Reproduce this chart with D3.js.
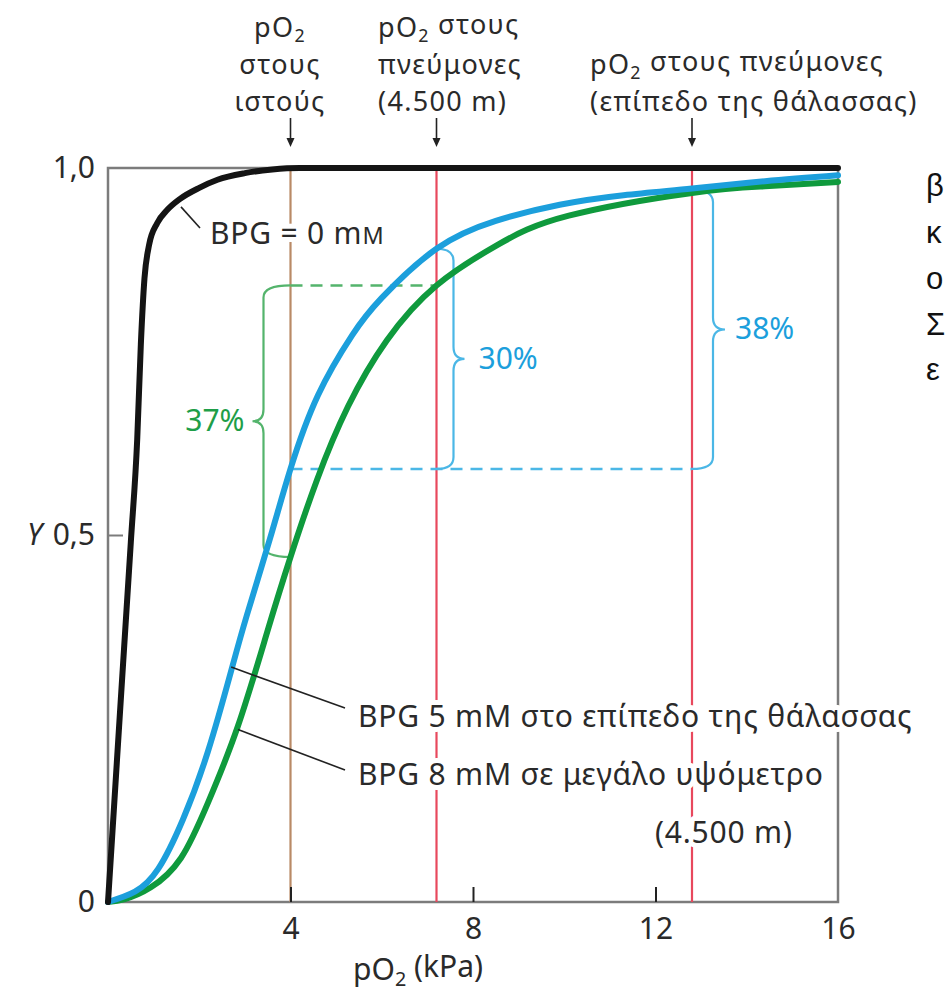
<!DOCTYPE html>
<html>
<head>
<meta charset="utf-8">
<script src="https://cdn.jsdelivr.net/npm/d3@7"></script>
<style>
  body { margin: 0; background: #fff; }
  svg { display: block; }
  text { font-family: "Noto Sans", "Open Sans", sans-serif; }
</style>
</head>
<body>
<svg id="chart" width="947" height="992"></svg>
<script>
// Oxygen saturation Y against pO2 (kPa) for three BPG levels
const bpg0P = [0, 0.1, 0.3, 0.5, 0.64, 0.72, 0.8, 0.9, 1.08, 1.3, 1.58, 2.0, 2.4, 3.0, 3.6, 4.2, 8, 16];
const bpg0Y = [0, 0.098, 0.295, 0.49, 0.63, 0.76, 0.85, 0.895, 0.925, 0.943, 0.958, 0.973, 0.984, 0.993, 0.998, 1.0, 1.0, 1.0];

const bpg5P = [0, 0.59, 1.1, 1.64, 2.19, 2.7, 3.04, 3.55, 4.0, 4.6, 5.35, 6.0, 7.2, 8.5, 9.9, 11.3, 12.8, 14.4, 16];
const bpg5Y = [0, 0.014, 0.045, 0.112, 0.205, 0.315, 0.39, 0.495, 0.59, 0.69, 0.772, 0.823, 0.89, 0.928, 0.95, 0.963, 0.972, 0.982, 0.99];

const bpg8P = [0, 0.37, 0.94, 1.6, 2.19, 2.85, 3.5, 4.0, 4.58, 5.26, 6.11, 7.2, 8.53, 10.1, 12.8, 14.4, 16];
const bpg8Y = [0, 0.004, 0.02, 0.06, 0.135, 0.24, 0.37, 0.47, 0.575, 0.675, 0.765, 0.84, 0.895, 0.935, 0.966, 0.975, 0.981];

// Axis ticks
const xTicks = [4, 8, 12, 16];
const yTicks = [0, 0.5, 1];
const yTickLabels = ["0", "0,5", "1,0"];

// Reference pO2 values: tissues, lungs at 4.500 m, lungs at sea level
const markerP = [4, 7.2, 12.8];
const markerColors = ["#b98a66", "#e8485d", "#e8485d"];
const markerText = [
  ["pO₂", "στους", "ιστούς"],
  ["pO₂ στους", "πνεύμονες", "(4.500 m)"],
  ["pO₂ στους πνεύμονες", "(επίπεδο της θάλασσας)"]
];

// O2 delivered between lungs and tissues: [from, to] saturation
const deliveryFrom = [0.59, 0.59, 0.47];
const deliveryTo   = [0.89, 0.97, 0.84];
const deliveryP    = [7.2, 12.8, 4];   // where each brace hooks onto its curve

// Curve labels
const curveLabels = ["BPG = 0 mM", "BPG 5 mM στο επίπεδο της θάλασσας", "BPG 8 mM σε μεγάλο υψόμετρο", "(4.500 m)"];

const svg = d3.select("#chart");
const x = d3.scaleLinear().domain([0, 16]).range([108, 838]);
const y = d3.scaleLinear().domain([0, 1]).range([902, 168]);

const BLUE = "#1c9fdc", GREEN = "#0f9a3d", BLACK = "#141414";
const BLUE_L = "#4bb7e6", GREEN_L = "#54b46c";
const INK = "#2a2a2a";
const FS = 30, LS = "0.8px";

// helper: write a string, rendering "₂" as a lowered small 2
function richText(sel, str) {
  const parts = str.split("₂");
  parts.forEach((p, i) => {
    if (i > 0) {
      sel.append("tspan").attr("font-size", "0.66em").attr("dy", "0.28em").text("2");
      sel.append("tspan").attr("dy", "-0.28em").text(p);
    } else {
      sel.append("tspan").text(p);
    }
  });
}

// frame
svg.append("rect")
  .attr("x", x(0)).attr("y", y(1))
  .attr("width", x(16) - x(0)).attr("height", y(0) - y(1))
  .attr("fill", "none").attr("stroke", "#7c7c7c").attr("stroke-width", 2.5);

// vertical reference lines
svg.append("g").selectAll("line").data(markerP).join("line")
  .attr("x1", d => x(d)).attr("x2", d => x(d))
  .attr("y1", y(1)).attr("y2", y(0))
  .attr("stroke", (d, i) => markerColors[i]).attr("stroke-width", 2.2);

// axes
const xAxis = d3.axisBottom(x).tickValues(xTicks).tickSizeInner(-15).tickSizeOuter(0).tickPadding(16);
const gx = svg.append("g").attr("transform", `translate(0,${y(0)})`).call(xAxis);
gx.select(".domain").remove();
gx.selectAll(".tick line").attr("stroke", "#222").attr("stroke-width", 2)
  .filter(d => d === 16).remove();
gx.selectAll(".tick text").attr("font-size", FS).attr("fill", INK).attr("font-family", "Noto Sans");

const yAxis = d3.axisLeft(y).tickValues(yTicks).tickFormat((d, i) => yTickLabels[i])
  .tickSizeInner(-15).tickSizeOuter(0).tickPadding(13);
const gy = svg.append("g").attr("transform", `translate(${x(0)},0)`).call(yAxis);
gy.select(".domain").remove();
gy.selectAll(".tick line").attr("stroke", "#7c7c7c").attr("stroke-width", 2)
  .filter(d => d !== 0.5).remove();
gy.selectAll(".tick text").attr("font-size", FS).attr("fill", INK).attr("font-family", "Noto Sans");

svg.append("text").attr("x", 27).attr("y", y(0.5) + 10)
  .attr("font-size", FS).attr("font-style", "italic").attr("fill", INK).text("Y");

const xTitle = svg.append("text").attr("x", 418).attr("y", 980)
  .attr("text-anchor", "middle").attr("font-size", FS).attr("fill", INK);
richText(xTitle, "pO₂ (kPa)");

// dashed saturation levels
svg.append("line")
  .attr("x1", x(4)).attr("x2", x(12.8)).attr("y1", y(deliveryFrom[0])).attr("y2", y(deliveryFrom[0]))
  .attr("stroke", BLUE_L).attr("stroke-width", 2.5).attr("stroke-dasharray", "12 8");
svg.append("line")
  .attr("x1", x(4)).attr("x2", x(7.2)).attr("y1", y(deliveryTo[2])).attr("y2", y(deliveryTo[2]))
  .attr("stroke", GREEN_L).attr("stroke-width", 2.5).attr("stroke-dasharray", "12 8");

// curly braces
function bracePath(x0, xv, y0, y1, tip) {
  const r = 12, ym = (y0 + y1) / 2;
  return `M${x0},${y0} Q${xv},${y0} ${xv},${y0 + r} L${xv},${ym - r} ` +
         `Q${xv},${ym} ${xv + tip},${ym} Q${xv},${ym} ${xv},${ym + r} ` +
         `L${xv},${y1 - r} Q${xv},${y1} ${x0},${y1}`;
}
const braceOffset = [17, 21, -27];
const braceTip = [11, 12, -11];
const braceGap = [14, 10, 8];
const braceColor = [BLUE_L, BLUE_L, GREEN_L];
const braceTextColor = [BLUE, BLUE, "#1e9e48"];
deliveryFrom.forEach((lo, i) => {
  const x0 = x(deliveryP[i]), xv = x0 + braceOffset[i];
  const yTop = y(deliveryTo[i]), yBot = y(lo);
  svg.append("path").attr("d", bracePath(x0, xv, yTop, yBot, braceTip[i]))
    .attr("fill", "none").attr("stroke", braceColor[i]).attr("stroke-width", 2.2);
  const pct = Math.round((deliveryTo[i] - lo) * 100) + "%";
  const right = braceTip[i] > 0;
  svg.append("text")
    .attr("x", xv + braceTip[i] + (right ? braceGap[i] : -braceGap[i]))
    .attr("y", (yTop + yBot) / 2 + 10)
    .attr("text-anchor", right ? "start" : "end")
    .attr("font-size", FS).attr("fill", braceTextColor[i]).text(pct);
});

// curves
const smooth = d3.line().x(d => x(d[0])).y(d => y(d[1])).curve(d3.curveNatural);
const steep = d3.line().x(d => x(d[0])).y(d => y(d[1])).curve(d3.curveMonotoneX);
const curves = [
  { p: bpg8P, v: bpg8Y, c: GREEN, gen: smooth },
  { p: bpg5P, v: bpg5Y, c: BLUE, gen: smooth },
  { p: bpg0P, v: bpg0Y, c: BLACK, gen: steep }
];
curves.forEach(cv => {
  svg.append("path").datum(d3.zip(cv.p, cv.v)).attr("d", cv.gen)
    .attr("fill", "none").attr("stroke", cv.c).attr("stroke-width", 6)
    .attr("stroke-linejoin", "round").attr("stroke-linecap", "round");
});

// leader lines for curve labels
const leaderFrom = [[1.6, 0.947], [2.7, 0.32], [2.85, 0.235]];
const leaderTo = [[200, 228], [345, 708], [345, 770]];
leaderFrom.forEach((d, i) => {
  svg.append("line")
    .attr("x1", x(d[0])).attr("y1", y(d[1]))
    .attr("x2", leaderTo[i][0]).attr("y2", leaderTo[i][1])
    .attr("stroke", "#222").attr("stroke-width", 1.6);
});

// curve label texts (white halo breaks the reference lines)
const labelPos = [[210, 244], [358, 727], [358, 785], [655, 843]];
curveLabels.forEach((t, i) => {
  const el = svg.append("text").attr("x", labelPos[i][0]).attr("y", labelPos[i][1])
    .attr("font-size", FS).attr("fill", INK).attr("letter-spacing", LS)
    .attr("stroke", "#fff").attr("stroke-width", 10).attr("paint-order", "stroke")
    .attr("stroke-linejoin", "round");
  if (i === 0) {
    // millimolar written with a small-capital M
    el.append("tspan").text(t.slice(0, -1));
    el.append("tspan").attr("font-size", "0.78em").text("M");
  } else {
    el.text(t);
  }
});

// reference annotations above the plot, with arrows
const TOP_FS = 27;
const markerAnchor = [["middle", 280], ["start", 378], ["start", 590]];
const lineBaselines = [[37, 74, 111], [37, 74, 111], [74, 111]];
markerText.forEach((lines, i) => {
  lines.forEach((s, j) => {
    const t = svg.append("text")
      .attr("x", markerAnchor[i][1]).attr("y", lineBaselines[i][j])
      .attr("text-anchor", markerAnchor[i][0])
      .attr("letter-spacing", "1.3px")
      .attr("font-size", TOP_FS).attr("fill", INK);
    richText(t, s);
  });
});
markerP.forEach(p => {
  const xa = x(p);
  svg.append("line").attr("x1", xa).attr("x2", xa).attr("y1", 118).attr("y2", 140)
    .attr("stroke", "#222").attr("stroke-width", 1.6);
  svg.append("path").attr("d", `M${xa - 4},${138} L${xa + 4},${138} L${xa},${147} Z`).attr("fill", "#222");
});

// text continuing at the right edge of the page
const edgeLetters = ["β", "κ", "ο", "Σ", "ε"];
const edgeBaselines = [196, 243, 289, 335, 380];
edgeLetters.forEach((s, i) => {
  svg.append("text").attr("x", 926).attr("y", edgeBaselines[i])
    .attr("font-size", 31).attr("fill", "#111")
    .style("font-family", "'Liberation Sans', sans-serif").text(s);
});
</script>
</body>
</html>
